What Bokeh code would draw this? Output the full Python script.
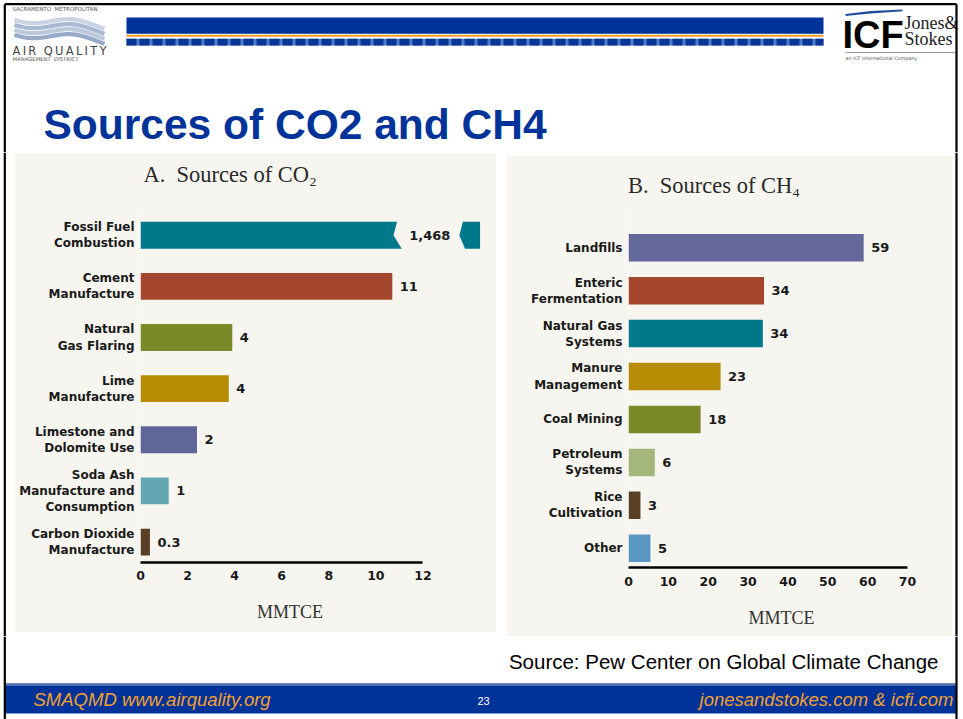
import numpy as np
from bokeh.plotting import figure
from bokeh.layouts import column, row
from bokeh.models import Range1d, FixedTicker, ColumnDataSource, LinearAxis
from bokeh.core.properties import value
from bokeh.embed import file_html
from bokeh.resources import INLINE

# ---------------- data ----------------
slide_title = "Sources of CO2 and CH4"

co2_title = "A.\u00a0 Sources of CO\u2082"
co2_categories = ["Fossil Fuel\nCombustion", "Cement\nManufacture", "Natural\nGas Flaring",
                  "Lime\nManufacture", "Limestone and\nDolomite Use",
                  "Soda Ash\nManufacture and\nConsumption", "Carbon Dioxide\nManufacture"]
co2_values = [1468, 10.7, 3.9, 3.75, 2.4, 1.2, 0.4]
co2_value_labels = ["1,468", "11", "4", "4", "2", "1", "0.3"]
co2_colors = ["#00788b", "#a5472f", "#7a8a29", "#b68c05", "#61669a", "#64a6b4", "#5a4026"]
co2_ticks = [0, 2, 4, 6, 8, 10, 12]

ch4_title = "B.\u00a0 Sources of CH\u2084"
ch4_categories = ["Landfills", "Enteric\nFermentation", "Natural Gas\nSystems", "Manure\nManagement",
                  "Coal Mining", "Petroleum\nSystems", "Rice\nCultivation", "Other"]
ch4_values = [59.0, 34.0, 33.7, 23.1, 18.1, 6.6, 3.0, 5.5]
ch4_value_labels = ["59", "34", "34", "23", "18", "6", "3", "5"]
ch4_colors = ["#64689a", "#a5472f", "#00788b", "#b68c05", "#7a8a29", "#a5b67d", "#5a4026", "#5a98c4"]
ch4_ticks = [0, 10, 20, 30, 40, 50, 60, 70]

axis_title = "MMTCE"
source_note = "Source: Pew Center on Global Climate Change"
footer_left = "SMAQMD www.airquality.org"
footer_right = "jonesandstokes.com & icfi.com"
page_number = "23"

# axis-break styling for bars that run off the scale
BREAK_AT, RESUME_AT, STUB_END, NOTCH, SKEW = 10.9, 13.7, 14.43, 0.15, 0.2

# ---------------- geometry ----------------
REF_W, REF_H = 963, 719
OUT_W, OUT_H = 963, 719
SX, SY = OUT_W / REF_W, OUT_H / REF_H
FS = (SX + SY) / 2
PANEL = "#f6f5ef"
BLUE = "#003399"
ORANGE = "#f2a030"
BASELINE_SHIFT = 0.34   # measured offset of the rendered baseline, in ems


def SCX(v):
    return int(round(v * SX))


def SCY(v):
    return int(round(v * SY))


def px(v):
    return f"{v * FS:.2f}px"


BORDER_L, BORDER_R, BORDER_T = 4.3, 956.0, 3.7


def blank(x0, x1, y0, y1, fill="white"):
    p = figure(width=SCX(x1) - SCX(x0), height=SCY(y1) - SCY(y0),
               x_range=Range1d(x0, x1), y_range=Range1d(y1, y0),
               x_axis_type=None, y_axis_type=None, min_border=0,
               toolbar_location=None, output_backend="svg",
               background_fill_color=fill, border_fill_color=fill,
               outline_line_color=None)
    return p


def borders(p, x0, x1, y0, y1):
    top = max(y0, BORDER_T)
    for bx in (BORDER_L, BORDER_R):
        if x0 <= bx <= x1:
            p.segment(x0=[bx], y0=[top], x1=[bx], y1=[y1], line_color="black",
                      line_width=2.2 * FS)
    if y0 <= BORDER_T <= y1:
        p.segment(x0=[max(x0, BORDER_L)], y0=[BORDER_T], x1=[min(x1, BORDER_R)], y1=[BORDER_T],
                  line_color="black", line_width=2.2 * FS)


def txt(p, x, y, s, size, color="black", font="Liberation Sans", style="normal",
        align="left"):
    # y is the wanted baseline (reference pixels)
    p.text(x=[x], y=[y - BASELINE_SHIFT * size], text=[s], text_font=value(font),
           text_font_size=px(size), text_font_style=style, text_color=color,
           text_align=align, text_baseline="alphabetic", text_line_height=1.0)


# ---------------- header ----------------
head = blank(0, 963, 0, 152)
# left logo
txt(head, 12, 10.5, "SACRAMENTO\u00a0\u00a0METROPOLITAN", 5.5, color="#555555", font="DejaVu Sans")
xw = np.linspace(14, 104, 60)
for k, c in enumerate(["#c9d3e3", "#a9b9d3", "#bcc8dc", "#97aac9"]):
    yw = 17 + k * 5 + 9 * (xw - 14) / 90 + 4 * np.sin((xw - 14) / 90 * 2 * np.pi + 0.6)
    head.line(xw, yw, line_color=c, line_width=4.2 * FS)
sp = "\u2009"
txt(head, 12, 54, sp.join("AIR") + "\u00a0\u00a0" + sp.join("QUALITY"), 11.5,
    color="#444444", font="DejaVu Sans")
txt(head, 12, 60.5, "MANAGEMENT\u00a0\u00a0DISTRICT", 5.3, color="#555555", font="DejaVu Sans")
# banner
head.quad(left=[126], right=[823], top=[17], bottom=[33.3], fill_color=BLUE, line_color=None)
head.quad(left=[126], right=[823], top=[34.3], bottom=[36.2], fill_color="#f39a2b", line_color=None)
head.quad(left=[126], right=[823], top=[38.3], bottom=[45], fill_color="#4f7cc9", line_color=None)
head.segment(x0=[126], y0=[41.6], x1=[823], y1=[41.6], line_color="#0b3596",
             line_width=6.7 * SY, line_dash="10 3")
# right logo
head.patch(x=[845, 870, 902, 902, 870, 845], y=[13.5, 10.5, 9, 10.8, 13, 15.5],
           fill_color="#1f4e9e", line_color=None)
txt(head, 842, 47, "ICF", 38, font="Liberation Sans", style="bold")
txt(head, 904, 29, "Jones&", 18, color="#222222", font="Liberation Serif")
txt(head, 904, 44.5, "Stokes", 18, color="#222222", font="Liberation Serif")
head.segment(x0=[845], y0=[52], x1=[955], y1=[52], line_color="#9a9a9a", line_width=1)
txt(head, 845, 60, "an ICF International Company", 4.8, color="#555555", font="DejaVu Sans")
# slide title
txt(head, 43, 138, slide_title, 42.5, color=BLUE, font="Liberation Sans", style="bold")
borders(head, 0, 963, 0, 152)


def label_axis(text, pos, standoff, size, font="Liberation Serif", color="#2a2a2a"):
    """An axis with no line or ticks carrying a single text label at data position pos."""
    pos = round(pos, 3)
    return LinearAxis(ticker=FixedTicker(ticks=[pos], minor_ticks=[]),
                      major_label_overrides={pos: text},
                      axis_line_color=None, major_tick_line_color=None,
                      minor_tick_line_color=None, major_tick_out=0, major_tick_in=0,
                      major_label_standoff=standoff, major_label_text_font=font,
                      major_label_text_font_style="normal",
                      major_label_text_font_size=px(size), major_label_text_color=color)


# ---------------- charts ----------------
def chart(title, cats, vals, labs, cols, ticks, fig_box, frame_box, first_center, step,
          unit_px, bar_h, title_center, title_standoff, tick_standoff, xlabel_center,
          xlabel_standoff):
    x0, x1, y0, y1 = fig_box
    fl, fr, ft, fb = frame_box
    p = figure(width=SCX(x1) - SCX(x0), height=SCY(y1) - SCY(y0),
               min_border_left=SCX(fl) - SCX(x0), min_border_right=SCX(x1) - SCX(fr),
               min_border_top=SCY(ft) - SCY(y0), min_border_bottom=SCY(y1) - SCY(fb),
               x_range=Range1d(0, (fr - fl) / unit_px),
               y_range=Range1d((fb - first_center) / step, (ft - first_center) / step),
               toolbar_location=None, output_backend="svg",
               background_fill_color=PANEL, border_fill_color=PANEL,
               outline_line_color=None)
    xa = p.below[0]
    ya = p.left[0]
    axis_max = ticks[-1]
    idx = list(range(len(cats)))
    reg = [i for i in idx if vals[i] <= axis_max]
    src = ColumnDataSource(dict(y=reg, right=[vals[i] for i in reg], color=[cols[i] for i in reg]))
    p.hbar(y="y", left=0, right="right", height=bar_h, fill_color="color", line_color=None,
           source=src)
    # bars that run off the scale are drawn with a break
    for i in idx:
        if vals[i] > axis_max:
            t, m, b = i - bar_h / 2, i, i + bar_h / 2
            p.patch(x=[0, BREAK_AT, BREAK_AT - NOTCH, BREAK_AT + SKEW, 0],
                    y=[t, t, m, b, b], fill_color=cols[i], line_color=None)
            p.patch(x=[RESUME_AT, STUB_END, STUB_END, RESUME_AT + 0.09, RESUME_AT - NOTCH],
                    y=[t, t, b, b, m], fill_color=cols[i], line_color=None)
    lsrc = ColumnDataSource(dict(
        x=[v if v <= axis_max else BREAK_AT + SKEW for v in vals], y=idx, text=labs))
    p.text(x="x", y="y", text="text", source=lsrc, x_offset=7.5 * FS,
           text_font=value("DejaVu Sans"), text_font_style="bold", text_font_size=px(13),
           text_color="#1a1a1a", text_align="left", text_baseline="middle")

    p.grid.visible = False
    xa.ticker = FixedTicker(ticks=ticks, minor_ticks=[])
    xa.bounds = (0, axis_max)
    xa.axis_line_color = "black"
    xa.axis_line_width = 2.7 * FS
    xa.major_tick_line_color = None
    xa.minor_tick_line_color = None
    xa.major_tick_out = 0
    xa.major_tick_in = 0
    xa.major_label_standoff = tick_standoff
    xa.major_label_text_font = "DejaVu Sans"
    xa.major_label_text_font_style = "bold"
    xa.major_label_text_font_size = px(12.5)
    xa.major_label_text_color = "#1a1a1a"

    ya.ticker = FixedTicker(ticks=idx, minor_ticks=[])
    ya.major_label_overrides = {i: c for i, c in enumerate(cats)}
    ya.axis_line_color = None
    ya.major_tick_line_color = None
    ya.minor_tick_line_color = None
    ya.major_tick_out = 0
    ya.major_tick_in = 0
    ya.major_label_standoff = 6
    ya.major_label_text_font = "DejaVu Sans"
    ya.major_label_text_font_style = "bold"
    ya.major_label_text_font_size = px(12)
    ya.major_label_text_color = "#1a1a1a"
    ya.major_label_text_line_height = 1.15

    # chart title above the frame, axis title under the scale
    p.add_layout(label_axis(title, (title_center - fl) / unit_px, title_standoff, 22.5), "above")
    p.add_layout(label_axis(axis_title, (xlabel_center - fl) / unit_px, xlabel_standoff, 18,
                            color="#333333"), "below")
    return p


chart_a = chart(co2_title, co2_categories, co2_values, co2_value_labels, co2_colors, co2_ticks,
                fig_box=(14, 496, 152, 632), frame_box=(140.5, 490, 205, 561.7),
                first_center=234.7, step=51.1, unit_px=23.5, bar_h=0.525,
                title_center=230, title_standoff=19, tick_standoff=8,
                xlabel_center=289.7, xlabel_standoff=19)
chart_b = chart(ch4_title, ch4_categories, ch4_values, ch4_value_labels, ch4_colors, ch4_ticks,
                fig_box=(506, 952, 155, 636), frame_box=(628, 945, 210, 566.7),
                first_center=247.2, step=42.9, unit_px=3.986, bar_h=0.64,
                title_center=713.5, title_standoff=13, tick_standoff=9,
                xlabel_center=781, xlabel_standoff=19)

left_m = blank(0, 14, 152, 636)
borders(left_m, 0, 14, 152, 636)
gap = blank(496, 506, 152, 636)
right_m = blank(952, 963, 152, 636)
borders(right_m, 952, 963, 152, 636)
col_a = column(chart_a, blank(14, 496, 632, 636))
col_b = column(blank(506, 952, 152, 155), chart_b)
middle = row(left_m, col_a, gap, col_b, right_m)

# ---------------- footer ----------------
foot = blank(0, 963, 636, 719)
txt(foot, 938, 668, source_note, 20.5, color="black", font="Liberation Sans", align="right")
foot.quad(left=[BORDER_L], right=[BORDER_R], top=[683], bottom=[713], fill_color=BLUE,
          line_color=None)
foot.quad(left=[BORDER_L], right=[BORDER_R], top=[683], bottom=[685.3], fill_color="#5a7bb0",
          line_color=None)
txt(foot, 33, 705, footer_left, 18.5, color=ORANGE, style="italic")
txt(foot, 483, 704, page_number, 11, color="white", align="center")
txt(foot, 953, 705, footer_right, 18.5, color=ORANGE, style="italic", align="right")
borders(foot, 0, 963, 636, 719)

layout = column(head, middle, foot)
open("out.html", "w").write(file_html(layout, INLINE))
